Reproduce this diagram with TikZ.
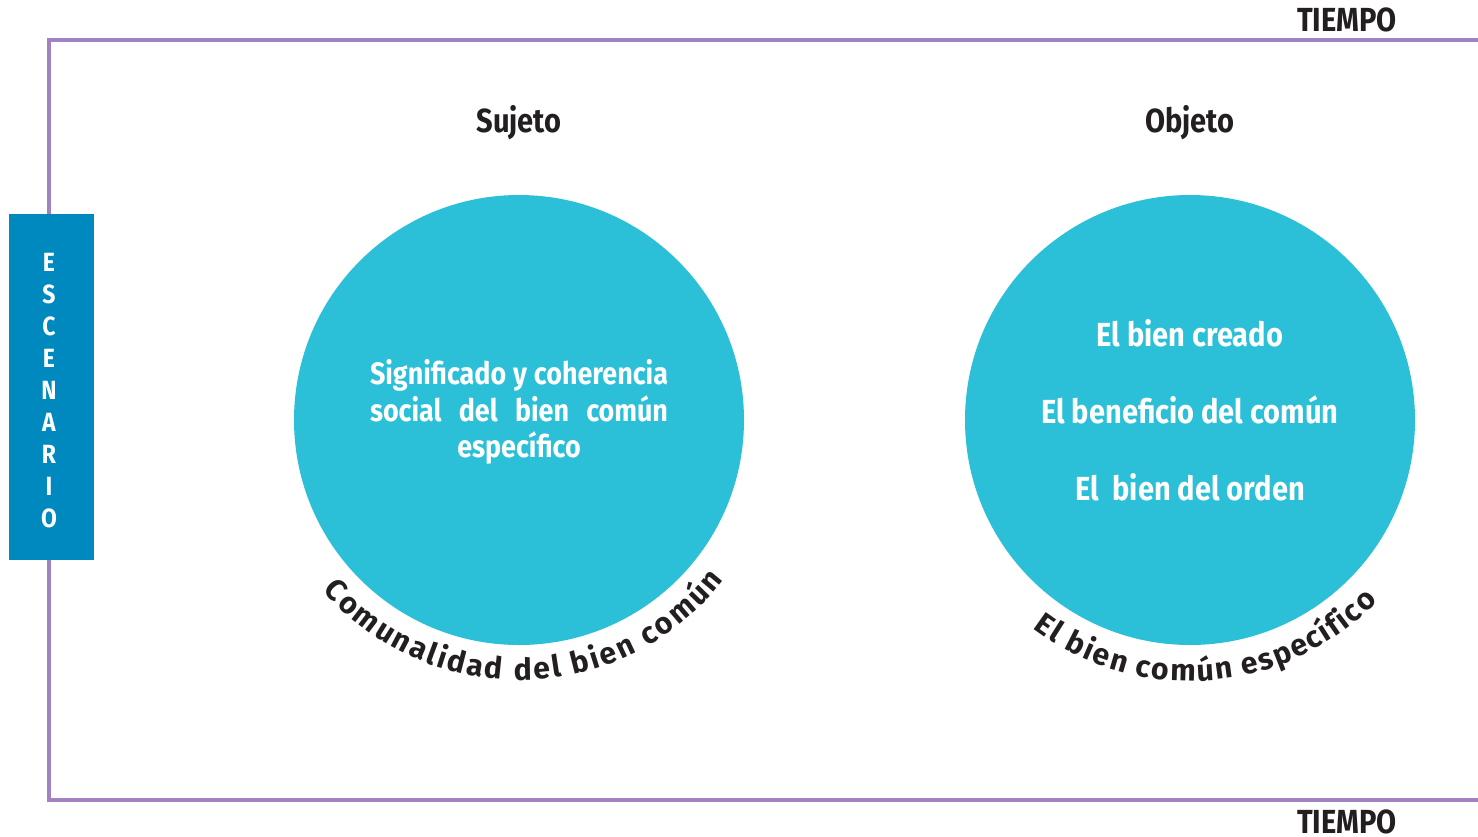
\documentclass[tikz,border=0pt]{standalone}
\usepackage{fontspec}
\setmainfont{Fira Sans}[FakeStretch=0.87]
\newfontfamily\arcofont{Fira Sans}
\usetikzlibrary{positioning,decorations.text,calc}
\definecolor{celeste}{HTML}{2CBFD8}
\definecolor{azulbox}{HTML}{0089BF}
\definecolor{lila}{HTML}{A382C4}
\definecolor{tinta}{HTML}{231F20}

\begin{document}
\begin{tikzpicture}[node distance=0.42cm,
    circulo/.style={circle,fill=celeste,minimum size=4.5cm,inner sep=0pt},
    titulo/.style={font=\bfseries\fontsize{9.5}{11}\selectfont,text=tinta},
    letra/.style={font=\bfseries\fontsize{7.5}{9}\selectfont,text=white,inner sep=0pt},
    adentro/.style={font=\bfseries\fontsize{8.8}{10.3}\selectfont,text=white,align=center},
    arco/.style={decorate,decoration={text along path,text align={fit to path},
        text color=tinta,text={|\arcofont\bfseries\fontsize{8.6}{11}\selectfont|#1}}}]
    \useasboundingbox (0,0) rectangle (14.78,8.36);

    % marco
    \draw[lila,line width=0.9pt] (14.78,7.96) -- (0.49,7.96) -- (0.49,0.36) -- (14.78,0.36);
    \node[titulo] (t_arriba) at (13.47,8.16) {TIEMPO};
    \node[titulo] (t_abajo)  at (13.47,0.14) {TIEMPO};

    \node[fill=azulbox,minimum width=0.85cm,minimum height=3.46cm,inner sep=0pt] (escenario) at (0.515,4.49) {};
    \foreach \l [count=\i] in {E,S,C,E,N,A,R,I,O}
        \node[letra] (esc_\i) at (0.49,6.06-0.32*\i) {\l};

    \node[circulo] (sujeto) at (5.19,4.16) {};
    \node[circulo] (objeto) at (11.90,4.16) {};
    \node[titulo] (l_sujeto) [above=of sujeto] {Sujeto};
    \node[titulo] (l_objeto) [above=of objeto] {Objeto};

    \node[adentro] (txt_sujeto) at ($(sujeto)+(0,0.08)$)
        {\makebox[2.98cm][s]{Significado y coherencia}\\
         \makebox[2.98cm][s]{social del bien común}\\ específico};
    \node[adentro,font=\bfseries\fontsize{9.5}{21.9}\selectfont] (txt_objeto) at ($(objeto)+(0,0.1)$)
        {El bien creado\\ El beneficio del común\\ El~ bien del orden};

    \path[arco={Comunalidad del bien común}]
        ([shift={(221:2.6)}]sujeto.center) arc[start angle=221,end angle=322,radius=2.6];
    \path[arco={El bien común específico}]
        ([shift={(233:2.61)}]objeto.center) arc[start angle=233,end angle=316,radius=2.61];
\end{tikzpicture}
\end{document}
